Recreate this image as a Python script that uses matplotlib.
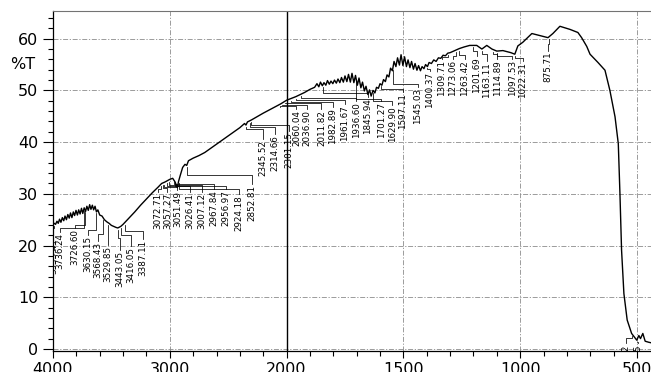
import numpy as np
import matplotlib
matplotlib.use('Agg')
import matplotlib.pyplot as plt
from matplotlib.ticker import FixedLocator

# --- spectrum (wavenumber cm-1, %T), one list per region
wn_oh = [4000, 3990, 3978, 3966, 3955, 3944, 3932, 3920, 3908, 3897, 3885, 3873,
         3861, 3850, 3838, 3826, 3815, 3803, 3791, 3780, 3768, 3756, 3745, 3733,
         3721, 3710, 3698, 3686, 3675, 3663, 3652, 3640, 3628, 3616, 3600, 3580,
         3560, 3540, 3520, 3500, 3480, 3460, 3445]
t_oh = [24.0, 24.3, 24.1, 24.7, 24.3, 25.1, 24.5, 25.4, 24.8, 25.7, 25.0, 26.0,
        25.3, 26.3, 25.4, 26.5, 25.8, 26.8, 25.9, 26.9, 26.1, 27.2, 26.2, 27.3,
        26.6, 27.6, 26.8, 27.9, 27.0, 27.8, 26.9, 27.6, 26.5, 26.9, 25.9, 25.7,
        25.0, 24.6, 24.3, 23.9, 23.7, 23.5, 23.4]

wn_ch = [3420, 3400, 3350, 3300, 3250, 3200, 3150, 3100, 3070, 3040, 3000, 2975,
         2955, 2935, 2925, 2910, 2890, 2870, 2855, 2840, 2800, 2750, 2700, 2600,
         2500, 2400, 2360, 2348, 2335, 2300, 2200, 2100, 2050, 2000]
t_ch = [23.7, 24.1, 25.3, 26.5, 27.8, 29.0, 30.2, 31.3, 32.0, 32.3, 32.8, 33.0,
        32.3, 31.2, 32.4, 33.6, 35.1, 35.7, 35.5, 36.4, 36.9, 37.4, 38.0, 39.6,
        41.2, 42.8, 43.6, 43.3, 43.9, 44.3, 45.6, 46.8, 47.4, 48.1]

wn_mid = [1960, 1923, 1900, 1880, 1870, 1862, 1855, 1847, 1840, 1832, 1825, 1817,
          1810, 1802, 1795, 1787, 1780, 1772, 1765, 1757, 1750, 1742, 1735, 1727,
          1720, 1712, 1705, 1697, 1690, 1682, 1675, 1667, 1660, 1652, 1645, 1638,
          1630, 1622, 1615, 1607, 1600, 1592, 1585, 1577, 1570, 1562, 1555, 1547,
          1540, 1532, 1525, 1517, 1510, 1502, 1495, 1487, 1480, 1472, 1465, 1457,
          1450, 1442, 1435, 1427, 1420, 1412, 1405, 1397, 1390, 1380, 1370, 1360,
          1350, 1340, 1330, 1320, 1310, 1300]
t_mid = [48.8, 49.6, 50.2, 50.6, 51.3, 50.7, 51.6, 50.9, 51.5, 51.0, 51.9, 51.2,
         51.8, 51.3, 52.0, 51.4, 52.2, 51.5, 52.5, 51.6, 52.8, 51.7, 53.1, 51.6,
         53.3, 51.5, 52.9, 51.0, 52.4, 50.5, 51.6, 49.9, 50.8, 49.2, 50.1, 48.9,
         50.0, 49.5, 50.6, 50.4, 51.3, 51.0, 52.1, 51.7, 53.0, 52.6, 54.3, 53.8,
         55.6, 54.6, 56.3, 54.9, 56.9, 54.8, 56.5, 54.6, 55.9, 54.4, 55.6, 54.1,
         55.2, 53.9, 54.8, 53.8, 54.6, 54.2, 55.0, 54.6, 55.4, 55.2, 55.9, 55.6,
         56.3, 56.2, 56.8, 56.7, 57.2, 57.3]

wn_fp = [1280, 1260, 1240, 1216, 1186, 1164, 1143, 1121, 1100, 1074, 1040, 1023,
         1010, 989, 950, 916, 881, 860, 830, 787, 753, 737, 715, 701, 667, 637,
         616, 594, 580, 573, 566, 556, 542, 523, 501, 492, 485, 475, 465, 450, 440]
t_fp = [57.7, 58.1, 58.4, 58.7, 58.7, 58.0, 58.7, 58.0, 57.6, 57.7, 57.3, 57.0,
        58.6, 59.3, 61.0, 60.6, 60.2, 61.0, 62.4, 61.8, 61.2, 60.2, 58.5, 57.0,
        55.4, 53.9, 50.0, 44.9, 39.7, 30.1, 19.1, 10.7, 5.6, 3.0, 1.7, 2.6,
        2.0, 3.0, 1.5, 1.3, 1.2]

wn = np.array(wn_oh + wn_ch + wn_mid + wn_fp, dtype=float)
pct_t = np.array(t_oh + t_ch + t_mid + t_fp)

# peak picks printed under the trace
peak_names = ['3993.41', '3736.24', '3726.60', '3630.15', '3568.43', '3529.85',
              '3443.05', '3416.05', '3387.11',
              '3072.71', '3057.27', '3051.49', '3026.41', '3007.12', '2967.84',
              '2956.97', '2924.18', '2852.81',
              '2345.52', '2314.66', '2301.15',
              '2060.04', '2036.90', '2011.82', '1982.89', '1961.67', '1936.60',
              '1845.94', '1701.27', '1629.90', '1597.11', '1545.03', '1400.37',
              '1309.71', '1273.06', '1263.42', '1201.69', '1163.11', '1114.89',
              '1097.53', '1022.31', '875.71', '521.52', '501.45']
# where each pick's text sits: x (cm-1), top of text (%T), elbow of leader (%T)
label_x = [3997, 3940, 3812, 3700, 3615, 3529, 3426, 3332, 3229,
           3105, 3020, 2934, 2827, 2724, 2622, 2519, 2407, 2296,
           2202, 2099, 1990,
           1958, 1911, 1851, 1802, 1752, 1702, 1652, 1595, 1548, 1503, 1439, 1388,
           1336, 1289, 1238, 1187, 1144, 1099, 1033, 990, 883, 548, 497]
label_top = [21.5, 22.4, 23.2, 21.8, 20.7, 19.9, 18.9, 19.7, 21.1,
             30.2, 30.2, 30.5, 30.2, 30.2, 30.7, 30.7, 29.8, 31.7,
             40.4, 41.4, 42.0,
             46.2, 46.2, 46.2, 46.6, 47.2, 47.8, 48.5, 47.8, 47.0, 49.5, 50.5, 53.6,
             55.9, 55.9, 55.9, 56.5, 55.5, 55.9, 55.9, 55.5, 57.5, 0.9, 0.9]
label_elbow = [23.3, 23.4, 24.0, 23.0, 22.3, 21.8, 21.4, 22.1, 22.8,
               31.0, 31.2, 31.4, 31.6, 31.8, 31.9, 31.5, 31.0, 33.6,
               42.6, 42.9, 43.3,
               46.9, 47.2, 47.5, 47.8, 48.1, 48.6, 49.5, 48.4, 48.0, 50.2, 51.3, 54.2,
               56.4, 56.6, 56.8, 57.6, 57.0, 57.0, 56.6, 56.2, 59.0, 2.2, 1.3]

xmajor = [4000, 3000, 2000, 1500, 1000, 500]
xminor = [3800, 3600, 3400, 3200, 2800, 2600, 2400, 2200,
          1900, 1800, 1700, 1600, 1400, 1300, 1200, 1100, 900, 800, 700, 600]
ymajor = [0, 10, 20, 30, 40, 50, 60]


# x axis is expanded 2x below 2000 cm-1, like the instrument printout
def fwd(w):
    w = np.asarray(w, dtype=float)
    return np.where(w >= 2000, w, 2 * w - 2000)


def inv(u):
    u = np.asarray(u, dtype=float)
    return np.where(u >= 2000, u, (u + 2000) / 2)


fig = plt.figure(figsize=(6.51, 3.72), dpi=100)
ax = fig.add_axes([0.0814, 0.0565, 0.9186, 0.914])

ax.set_xscale('function', functions=(fwd, inv))
ax.set_xlim(4000, 440)
ax.set_ylim(-0.39, 65.36)

ax.xaxis.set_major_locator(FixedLocator(xmajor))
ax.xaxis.set_minor_locator(FixedLocator(xminor))
ax.yaxis.set_major_locator(FixedLocator(ymajor))
ax.yaxis.set_minor_locator(FixedLocator(np.arange(0, 66, 2)))
ax.set_xticklabels([str(v) for v in xmajor])
ax.set_yticklabels([str(v) for v in ymajor])

ax.tick_params(axis='both', which='major', direction='out', labelsize=11.5,
               width=0.8, pad=3)
ax.tick_params(axis='x', which='major', length=5)
ax.tick_params(axis='y', which='major', length=7.5)
ax.tick_params(axis='both', which='minor', direction='out', length=3.6, width=0.8)

grid_style = dict(color='0.55', lw=0.6, ls=(0, (6, 2, 1.5, 2)), zorder=0)
for v in ymajor:
    ax.axhline(v, **grid_style)
for v in [3000, 1500, 1000, 500]:
    ax.axvline(v, **grid_style)
ax.axvline(2000, color='black', lw=1.0, zorder=1)

ax.spines['right'].set_visible(False)
ax.spines['top'].set_color('0.45')
ax.spines['top'].set_linewidth(0.8)
ax.spines['left'].set_linewidth(0.9)
ax.spines['bottom'].set_linewidth(0.9)

ax.plot(wn, pct_t, color='black', lw=1.0, zorder=3)

# leaders and labels for the picked peaks
order = np.argsort(wn)
for name, lx, top, elbow in zip(peak_names, label_x, label_top, label_elbow):
    px = float(name)
    ty = np.interp(px, wn[order], pct_t[order])
    ax.plot([px, px, lx, lx], [ty - 0.4, elbow, elbow, top + 0.2],
            color='black', lw=0.55, zorder=2)
    ax.text(lx, top, name, rotation=90, ha='center', va='top', fontsize=6.3,
            family=['Liberation Sans Narrow', 'DejaVu Sans'], clip_on=True,
            zorder=4)

ax.text(-0.05, 55, '%T', transform=ax.get_yaxis_transform(), ha='center',
        va='center', fontsize=11.5)

fig.savefig('out.png', dpi=100)
